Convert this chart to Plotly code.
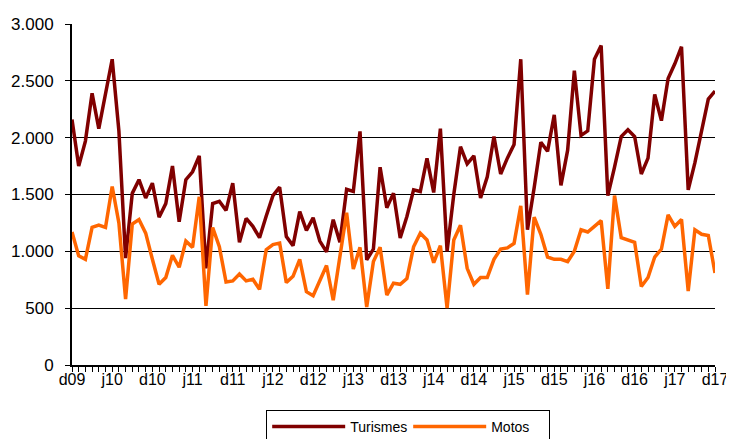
import plotly.graph_objects as go

tick_labels = ["d09", "j10", "d10", "j11", "d11", "j12", "d12", "j13", "d13",
               "j14", "d14", "j15", "d15", "j16", "d16", "j17", "d17"]

turismes = [2160, 1750, 1970, 2390, 2080, 2380, 2690, 2060, 940, 1510,
            1630, 1470, 1600, 1300, 1420, 1750, 1260, 1630, 1700, 1840,
            850, 1420, 1440, 1360, 1600, 1080, 1290, 1220, 1120, 1310,
            1490, 1565, 1130, 1050, 1350, 1185, 1295, 1090, 995, 1278,
            1080, 1545, 1526, 2055, 925, 1020, 1740, 1383, 1512, 1117,
            1307, 1541, 1526, 1818, 1518, 2080, 1000, 1500, 1920, 1770,
            1840, 1470, 1655, 2010, 1680, 1820, 1940, 2690, 1190, 1560,
            1960, 1880, 2200, 1580, 1890, 2590, 2020, 2060, 2690, 2810,
            1490, 1740, 2010, 2070, 2010, 1680, 1820, 2380, 2150, 2520,
            2650, 2800, 1540, 1780, 2070, 2340, 2410]

motos = [1170, 960, 930, 1210, 1230, 1210, 1570, 1250, 580, 1240,
         1280, 1160, 930, 710, 770, 965, 860, 1090, 1035, 1480,
         520, 1210, 1040, 730, 740, 800, 740, 755, 665, 1015,
         1060, 1072, 725, 780, 930, 645, 610, 740, 875, 570,
         980, 1340, 845, 1035, 510, 910, 1035, 615, 720, 710,
         760, 1040, 1160, 1100, 900, 1050, 500, 1100, 1230, 850,
         710, 770, 770, 930, 1020, 1030, 1070, 1400, 620, 1300,
         1150, 950, 930, 930, 910, 1000, 1190, 1170, 1220, 1270,
         670, 1490, 1120, 1100, 1080, 690, 770, 950, 1020, 1320,
         1220, 1280, 650, 1190, 1150, 1140, 810]

y_ticks = [0, 500, 1000, 1500, 2000, 2500, 3000]
y_tick_labels = ["0", "500", "1.000", "1.500", "2.000", "2.500", "3.000"]

x = list(range(len(turismes)))
label_step = 6
tick_positions = [i * label_step for i in range(len(tick_labels))]

FONT = "Arial, Liberation Sans, sans-serif"

fig = go.Figure()
fig.add_trace(go.Scatter(x=x, y=turismes, mode="lines", name="Turismes",
                         line=dict(color="#800000", width=3.5)))
fig.add_trace(go.Scatter(x=x, y=motos, mode="lines", name="Motos",
                         line=dict(color="#FF6600", width=3.5)))

fig.update_layout(
    width=726, height=431,
    margin=dict(l=64, r=19, t=16, b=74, autoexpand=False),
    paper_bgcolor="white", plot_bgcolor="white",
    font=dict(family=FONT, color="black"),
    showlegend=True,
    legend=dict(orientation="h", x=0.302, xanchor="left", y=-0.132, yanchor="top",
                bordercolor="black", borderwidth=1, font=dict(size=14, family=FONT),
                bgcolor="white", itemwidth=73, entrywidth=53, entrywidthmode="pixels"),
)
fig.update_xaxes(
    range=[0, len(turismes) - 1], tickmode="array", tickvals=tick_positions,
    ticktext=tick_labels, showgrid=False, zeroline=False, automargin=False,
    showline=True, linecolor="black", linewidth=2,
    ticks="outside", ticklen=5, tickcolor="black", tickwidth=1,
    ticklabelstandoff=-6,
    minor=dict(dtick=1, tick0=0, ticks="outside", ticklen=5, tickcolor="black", tickwidth=1),
    tickfont=dict(size=16, family=FONT),
)
fig.update_yaxes(
    range=[0, 3000], tickmode="array", tickvals=y_ticks, ticktext=y_tick_labels,
    showgrid=True, gridcolor="black", gridwidth=1.3, zeroline=False, automargin=False,
    showline=True, linecolor="black", linewidth=2,
    ticks="outside", ticklen=5, tickcolor="black", tickwidth=1.3,
    ticklabelstandoff=8,
    tickfont=dict(size=17, family=FONT),
)

fig.write_html("out.html")
